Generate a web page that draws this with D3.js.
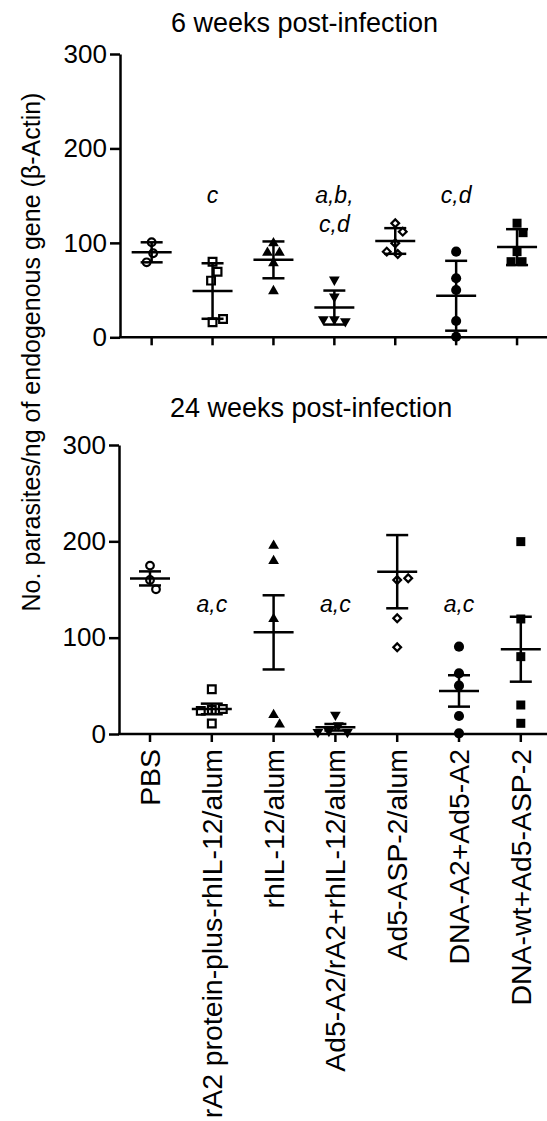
<!DOCTYPE html>
<html>
<head>
<meta charset="utf-8">
<script src="https://cdn.jsdelivr.net/npm/d3@7"></script>
<style>
  html, body { margin: 0; padding: 0; background: #fff; }
  svg { display: block; }
  text { font-family: "Liberation Sans", Arial, Helvetica, sans-serif; fill: #000; }
</style>
</head>
<body>
<svg id="chart" width="547" height="1121"></svg>
<script>
// ---------------- DATA ----------------
const categories = [
  "PBS",
  "rA2 protein-plus-rhIL-12/alum",
  "rhIL-12/alum",
  "Ad5-A2/rA2+rhIL-12/alum",
  "Ad5-ASP-2/alum",
  "DNA-A2+Ad5-A2",
  "DNA-wt+Ad5-ASP-2"
];
const symbols = ["openCircle", "openSquare", "triangleUp", "triangleDown", "openDiamond", "filledCircle", "filledSquare"];
const yTicks = [0, 100, 200, 300];

// 6 weeks post-infection (individual animals, mean, SD)
const week6Points = [
  [100.6, 89, 79.4],
  [80.1, 69.5, 60, 15.9, 19.4],
  [99.6, 89.6, 89.6, 78.4, 49],
  [61, 43, 19, 17, 19],
  [120.8, 111.9, 99.6, 88.2, 90.7],
  [90.7, 62.5, 50.1, 17.3, 0.6],
  [120.8, 110.8, 90.7, 80.1, 80.1]
];
const week6Mean = [90, 49, 82, 31.5, 102, 44, 95.5];
const week6Err  = [10.6, 29.4, 19.5, 18, 13.6, 37, 19];
const week6Notes = [[], ["c"], [], ["a,b,", "c,d"], [], ["c,d"], []];

// 24 weeks post-infection (individual animals, mean, SEM)
const week24Points = [
  [174.8, 159.9, 150.2],
  [46.4, 25, 26, 24, 11],
  [195.5, 179.6, 119.4, 19.7, 10],
  [20, 9, 3, 2, 2],
  [159.9, 161.7, 120.1, 90],
  [90.7, 63, 50.2, 18.7, 0.7],
  [199.7, 119.4, 80.3, 30.1, 11.1]
];
const week24Mean = [161.5, 26, 105.5, 7, 168.5, 44.7, 88];
const week24Err  = [7.3, 5.5, 38.5, 3.4, 38, 16.3, 33.7];
const week24Notes = [[], ["a,c"], [], ["a,c"], [], ["a,c"], []];

const titles = ["6 weeks post-infection", "24 weeks post-infection"];
const yLabel = "No. parasites/ng of endogenous gene (\u03B2-Actin)";

// ---------------- DRAW ----------------
const svg = d3.select("#chart");
const STROKE = 2.5;

const panels = [
  { title: titles[0], titleX: 171, titleY: 32, top: 54, bottom: 337.3, axisX: 120, xr: [121.2, 547.5],
    pts: week6Points, mean: week6Mean, err: week6Err, notes: week6Notes, noteY: 203 },
  { title: titles[1], titleX: 170, titleY: 417, top: 445, bottom: 734, axisX: 119, xr: [119.1, 551.7],
    pts: week24Points, mean: week24Mean, err: week24Err, notes: week24Notes, noteY: 612 }
];

function symbolPath(kind) {
  switch (kind) {
    case "openCircle":   return { d: d3.symbol(d3.symbolCircle, 46)(), fill: "#fff", stroke: "#000", sw: 2.2, rot: 0 };
    case "filledCircle": return { d: d3.symbol(d3.symbolCircle, 80)(), fill: "#000", stroke: "none", sw: 0, rot: 0 };
    case "openSquare":   return { d: d3.symbol(d3.symbolSquare, 60)(), fill: "#fff", stroke: "#000", sw: 2.2, rot: 0 };
    case "filledSquare": return { d: d3.symbol(d3.symbolSquare, 81)(), fill: "#000", stroke: "none", sw: 0, rot: 0 };
    case "triangleUp":   return { d: d3.symbol(d3.symbolTriangle, 50)(), fill: "#000", stroke: "none", sw: 0, rot: 0 };
    case "triangleDown": return { d: d3.symbol(d3.symbolTriangle, 50)(), fill: "#000", stroke: "none", sw: 0, rot: 180 };
    case "openDiamond":  return { d: d3.symbol(d3.symbolSquare, 30)(), fill: "#fff", stroke: "#000", sw: 2.2, rot: 45 };
  }
}

// greedy beeswarm offsets (pixel) so overlapping points sit side by side
function swarm(ys, D) {
  const placed = [];
  return ys.map(y => {
    let best = 0;
    for (let k = 0; k < 200; k++) {
      const off = k === 0 ? 0 : (k % 2 ? 1 : -1) * Math.ceil(k / 2) * 0.5;
      const ok = placed.every(p => (p.x - off) ** 2 + (p.y - y) ** 2 >= D * D);
      if (ok) { best = off; break; }
    }
    placed.push({ x: best, y });
    return best;
  });
}

panels.forEach((P, pi) => {
  const y = d3.scaleLinear().domain([0, 300]).range([P.bottom, P.top]);
  const x = d3.scaleBand().domain(categories).range(P.xr).padding(0);
  const cx = c => x(c) + x.bandwidth() / 2;

  // title
  svg.append("text").attr("x", P.titleX).attr("y", P.titleY)
    .attr("font-size", 27).text(P.title);

  // y axis
  const ya = svg.append("g").attr("transform", `translate(${P.axisX},0)`)
    .call(d3.axisLeft(y).tickValues(yTicks).tickSize(10).tickSizeOuter(0).tickPadding(3));
  ya.select(".domain").attr("stroke-width", STROKE);
  ya.selectAll(".tick line").attr("stroke-width", STROKE);
  ya.selectAll(".tick text").attr("font-size", 26)
    .attr("font-family", '"Liberation Sans", Arial, Helvetica, sans-serif');

  // x axis
  const xa = svg.append("g").attr("transform", `translate(0,${P.bottom})`)
    .call(d3.axisBottom(x).tickSize(8).tickSizeOuter(0).tickFormat(""));
  xa.select(".domain").attr("d", `M${P.axisX - 1},0H547`).attr("stroke-width", STROKE);
  xa.selectAll(".tick line").attr("stroke-width", STROKE);

  // points
  categories.forEach((c, gi) => {
    const vals = P.pts[gi];
    const ys = vals.map(v => y(v));
    const offs = swarm(ys, 11);
    const sp = symbolPath(symbols[gi]);
    svg.append("g").selectAll("path").data(vals).join("path")
      .attr("d", sp.d)
      .attr("transform", (v, i) => `translate(${cx(c) + offs[i]},${ys[i]}) rotate(${sp.rot})`)
      .attr("fill", sp.fill).attr("stroke", sp.stroke).attr("stroke-width", sp.sw);
  });

  // mean and error bars
  categories.forEach((c, gi) => {
    const g = svg.append("g").attr("stroke", "#000").attr("stroke-width", STROKE).attr("fill", "none");
    const m = P.mean[gi], e = P.err[gi];
    const X = cx(c);
    g.append("line").attr("x1", X).attr("x2", X).attr("y1", y(m + e)).attr("y2", y(Math.max(0, m - e)));
    g.append("line").attr("x1", X - 20).attr("x2", X + 20).attr("y1", y(m)).attr("y2", y(m));
    g.append("line").attr("x1", X - 11).attr("x2", X + 11).attr("y1", y(m + e)).attr("y2", y(m + e));
    if (m - e > 0)
      g.append("line").attr("x1", X - 11).attr("x2", X + 11).attr("y1", y(m - e)).attr("y2", y(m - e));
  });

  // significance letters
  categories.forEach((c, gi) => {
    P.notes[gi].forEach((line, li) => {
      svg.append("text").attr("x", cx(c)).attr("y", P.noteY + li * 28.5)
        .attr("text-anchor", "middle").attr("font-size", 23).attr("font-style", "italic")
        .text(line);
    });
  });

  // category labels (bottom panel only)
  if (pi === 1) {
    categories.forEach(c => {
      svg.append("text")
        .attr("transform", `translate(${cx(c)},${P.bottom + 15}) rotate(-90)`)
        .attr("text-anchor", "end").attr("dy", "0.35em")
        .attr("font-size", 28.4).text(c);
    });
  }
});

// y axis label
svg.append("text")
  .attr("transform", "translate(40,352) rotate(-90)")
  .attr("text-anchor", "middle").attr("font-size", 25)
  .text(yLabel);
</script>
</body>
</html>
